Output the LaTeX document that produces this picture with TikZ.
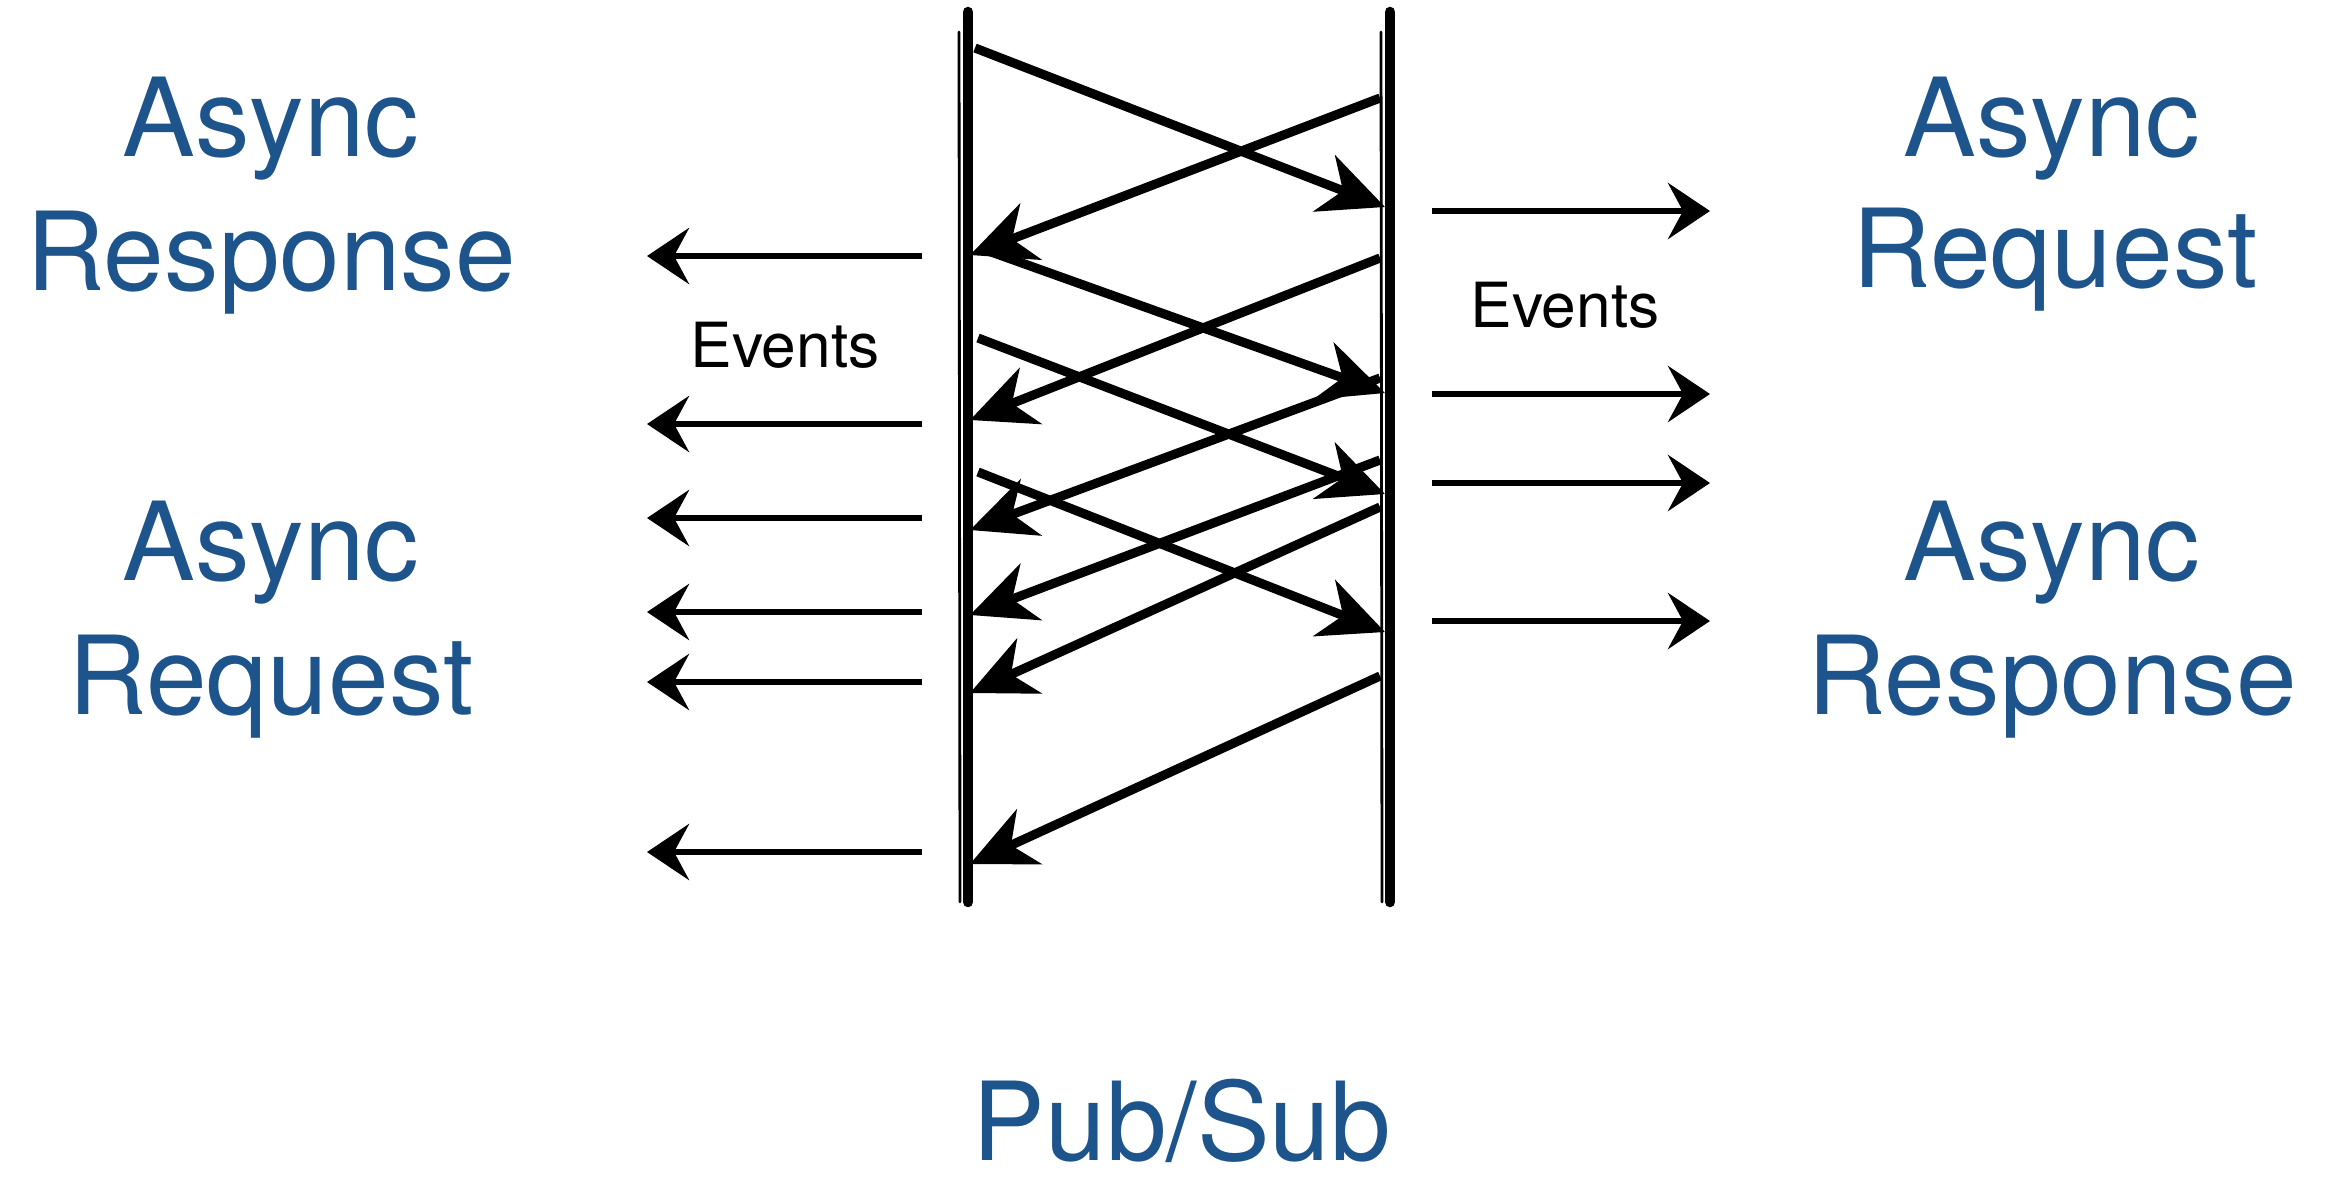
\documentclass[tikz,border=0pt]{standalone}
\usepackage{fontspec}
\setmainfont{TeX Gyre Heros}
\usetikzlibrary{arrows.meta}
\definecolor{kblue}{RGB}{30,84,140}
\begin{document}
\begin{tikzpicture}[x=0.01cm,y=-0.01cm,
  bigtxt/.style={text=kblue,font=\fontsize{31}{37}\selectfont,anchor=base,inner sep=0pt},
  evtxt/.style={font=\fontsize{17.7}{21}\selectfont,anchor=base,inner sep=0pt},
  rail/.style={line width=3pt,line cap=round},
  railthin/.style={line width=0.8pt,line cap=round},
  diag/.style={line width=2.6pt,-{Stealth[length=0.65cm,width=0.6cm,inset=0.2cm]}},
  horiz/.style={line width=1.8pt,-{Stealth[length=0.42cm,width=0.56cm,inset=0.15cm]}}]
\useasboundingbox (0,0) rectangle (2331,1184);

% labels
\node[bigtxt] (lresp1) at (271,156) {Async};
\node[bigtxt] (lresp2) at (271,290) {Response};
\node[bigtxt] (lreq1) at (271,580) {Async};
\node[bigtxt] (lreq2) at (271,714) {Request};
\node[bigtxt] (rreq1) at (2052,156) {Async};
\node[bigtxt] (rreq2) at (2055,287) {Request};
\node[bigtxt] (rresp1) at (2052,580) {Async};
\node[bigtxt] (rresp2) at (2052,714) {Response};
\node[bigtxt] (pubsub) at (1182,1160) {Pub/Sub};
\node[evtxt] (evl) at (785,367) {Events};
\node[evtxt] (evr) at (1565,327) {Events};

% rails
\coordinate (Lt) at (968,12);
\coordinate (Lb) at (968,902);
\coordinate (Rt) at (1390,12);
\coordinate (Rb) at (1390,902);
\draw[rail] (Lt) -- (Lb);
\draw[rail] (Rt) -- (Rb);
\draw[railthin] ([xshift=-0.09cm,yshift=-0.2cm]Lt) -- ([xshift=-0.08cm]Lb);
\draw[railthin] ([xshift=-0.09cm,yshift=-0.2cm]Rt) -- ([xshift=-0.08cm]Rb);

% diagonal arrows
\coordinate (d1s) at (975,48);   \coordinate (d1e) at (1385,207);
\coordinate (d2s) at (1380,98);  \coordinate (d2e) at (970,255);
\coordinate (d3s) at (980,248);  \coordinate (d3e) at (1385,393);
\coordinate (d4s) at (1380,258); \coordinate (d4e) at (970,420);
\coordinate (d5s) at (978,338);  \coordinate (d5e) at (1385,494);
\coordinate (d6s) at (1380,378); \coordinate (d6e) at (970,530);
\coordinate (d7s) at (978,472);  \coordinate (d7e) at (1385,632);
\coordinate (d8s) at (1380,460); \coordinate (d8e) at (970,615);
\coordinate (d9s) at (1380,507); \coordinate (d9e) at (970,693);
\coordinate (d10s) at (1380,676); \coordinate (d10e) at (970,864);
\foreach \i in {1,...,10} {
  \draw[diag] (d\i s) -- (d\i e);
}

% left horizontal arrows
\foreach \n/\y in {1/256,2/424,3/518,4/612,5/682,6/852} {
  \coordinate (hl\n s) at (922,\y);
  \coordinate (hl\n e) at (647,\y);
  \draw[horiz] (hl\n s) -- (hl\n e);
}
% right horizontal arrows
\foreach \n/\y in {1/211,2/394,3/483,4/621} {
  \coordinate (hr\n s) at (1432,\y);
  \coordinate (hr\n e) at (1710,\y);
  \draw[horiz] (hr\n s) -- (hr\n e);
}
\end{tikzpicture}
\end{document}
